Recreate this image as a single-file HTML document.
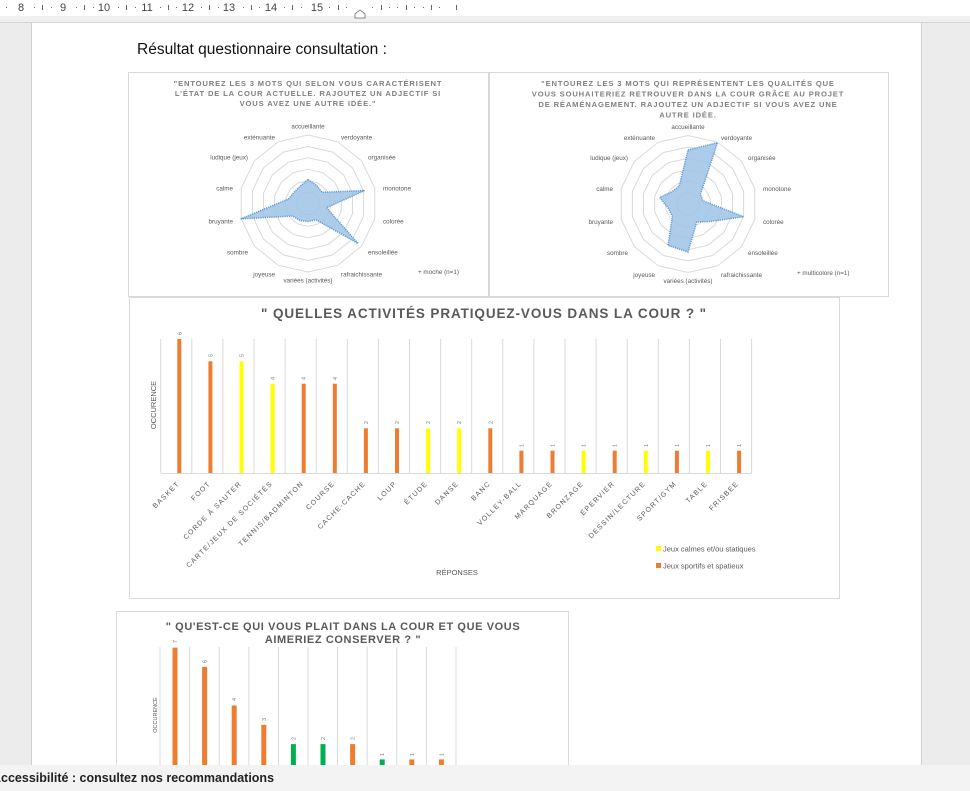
<!DOCTYPE html>
<html><head><meta charset="utf-8"><style>
html,body{margin:0;padding:0;width:970px;height:791px;overflow:hidden;background:#fff}
svg{display:block}
.t{font-family:"Liberation Sans",sans-serif}
.rl{font-family:"Liberation Sans",sans-serif;font-size:6.3px;fill:#595959}
.ct{font-family:"Liberation Sans",sans-serif;font-weight:bold;font-size:7.6px;fill:#7f7f7f;letter-spacing:0.85px;text-anchor:middle}
.cat{font-family:"Liberation Sans",sans-serif;font-size:7px;fill:#595959;letter-spacing:1.2px;text-anchor:end}
.v{font-family:"Liberation Sans",sans-serif;font-size:5.5px;fill:#7f7f7f}
.rg{fill:none;stroke:#d9d9d9;stroke-width:1}
.dp{fill:#9dc3e6;fill-opacity:.85;stroke:#5b9bd5;stroke-width:1.5;stroke-dasharray:1.2 1}
</style></head><body>
<svg width="970" height="791" viewBox="0 0 970 791" xmlns="http://www.w3.org/2000/svg">
<defs>
<polygon id="ring" points="0,-1 0.4339,-0.9010 0.7818,-0.6235 0.9749,-0.2225 0.9749,0.2225 0.7818,0.6235 0.4339,0.9010 0,1 -0.4339,0.9010 -0.7818,0.6235 -0.9749,0.2225 -0.9749,-0.2225 -0.7818,-0.6235 -0.4339,-0.9010"/>
</defs>
<rect x="0" y="0" width="970" height="791" fill="#ececec"/>
<rect x="0" y="0" width="970" height="16" fill="#fff"/>
<rect x="0" y="16" width="970" height="6" fill="#f0f0f0"/>
<line x1="0" y1="22.5" x2="970" y2="22.5" stroke="#d4d4d4"/>
<rect x="31" y="23" width="891" height="742" fill="#fff"/>
<line x1="31.5" y1="23" x2="31.5" y2="765" stroke="#d0d0d0"/>
<line x1="921.5" y1="23" x2="921.5" y2="765" stroke="#d0d0d0"/>
<g class="t" font-size="11" fill="#444" text-anchor="middle">
<text x="21" y="11">8</text><text x="63" y="11">9</text><text x="104" y="11">10</text><text x="147" y="11">11</text><text x="188" y="11">12</text><text x="229" y="11">13</text><text x="271" y="11">14</text><text x="317" y="11">15</text>
</g>
<g fill="#666">
<rect x="6" y="7" width="1" height="1"/><rect x="34" y="7" width="1" height="1"/><rect x="42" y="5" width="1" height="5"/><rect x="51" y="7" width="1" height="1"/><rect x="76" y="7" width="1" height="1"/><rect x="84" y="5" width="1" height="5"/><rect x="93" y="7" width="1" height="1"/><rect x="118" y="7" width="1" height="1"/><rect x="126" y="5" width="1" height="5"/><rect x="135" y="7" width="1" height="1"/><rect x="160" y="7" width="1" height="1"/><rect x="168" y="5" width="1" height="5"/><rect x="176" y="7" width="1" height="1"/><rect x="201" y="7" width="1" height="1"/><rect x="209" y="5" width="1" height="5"/><rect x="218" y="7" width="1" height="1"/><rect x="243" y="7" width="1" height="1"/><rect x="251" y="5" width="1" height="5"/><rect x="259" y="7" width="1" height="1"/><rect x="284" y="7" width="1" height="1"/><rect x="292" y="5" width="1" height="5"/><rect x="301" y="7" width="1" height="1"/><rect x="329" y="7" width="1" height="1"/><rect x="338" y="5" width="1" height="5"/><rect x="346" y="7" width="1" height="1"/>
<rect x="372" y="7" width="1" height="1"/><rect x="381" y="5" width="1" height="5"/><rect x="389" y="7" width="1" height="1"/><rect x="397" y="7" width="1" height="1"/><rect x="406" y="5" width="1" height="5"/><rect x="414" y="7" width="1" height="1"/><rect x="423" y="7" width="1" height="1"/><rect x="431" y="5" width="1" height="5"/><rect x="439" y="7" width="1" height="1"/><rect x="456" y="5" width="1" height="5"/>
</g>
<path d="M355,18 L355,14 L360,10 L365,14 L365,18 Z" fill="#fff" stroke="#666" stroke-width="0.8"/>
<text class="t" x="137" y="54" font-size="15.5" fill="#111">Résultat questionnaire consultation :</text>

<!-- Radar 1 -->
<rect x="128.5" y="72.5" width="360" height="224" fill="#fff" stroke="#d9d9d9"/>
<text class="ct" x="308" y="86">"ENTOUREZ LES 3 MOTS QUI SELON VOUS CARACTÉRISENT</text>
<text class="ct" x="308" y="96">L’ÉTAT DE LA COUR ACTUELLE. RAJOUTEZ UN ADJECTIF SI</text>
<text class="ct" x="308" y="106">VOUS AVEZ UNE AUTRE IDÉE."</text>
<g transform="translate(308,203.5)">
<use href="#ring" class="rg" transform="scale(68.5)" style="stroke-width:.0146"/>
<use href="#ring" class="rg" transform="scale(57)" style="stroke-width:.0175"/>
<use href="#ring" class="rg" transform="scale(45.7)" style="stroke-width:.0219"/>
<use href="#ring" class="rg" transform="scale(34.2)" style="stroke-width:.0292"/>
<use href="#ring" class="rg" transform="scale(22.8)" style="stroke-width:.0438"/>
<use href="#ring" class="rg" transform="scale(11.4)" style="stroke-width:.0877"/>
<polygon class="dp" points="0,-24 8.7,-18 14,-11.2 56.5,-12.9 18.5,4.2 50,39.9 7.8,16.2 0,18 -8.2,17 -15.6,12.5 -67.3,15.4 -19.5,-4.5 -14,-11.2 -8.2,-17"/>
<text class="rl" x="0" y="-75" text-anchor="middle">accueillante</text>
<text class="rl" x="33" y="-64" >verdoyante</text>
<text class="rl" x="60" y="-44">organisée</text>
<text class="rl" x="75" y="-13">monotone</text>
<text class="rl" x="75" y="20">colorée</text>
<text class="rl" x="60" y="51">ensoleillée</text>
<text class="rl" x="33" y="73">rafraichissante</text>
<text class="rl" x="0" y="79" text-anchor="middle">variées (activités)</text>
<text class="rl" x="-33" y="73" text-anchor="end">joyeuse</text>
<text class="rl" x="-60" y="51" text-anchor="end">sombre</text>
<text class="rl" x="-75" y="20" text-anchor="end">bruyante</text>
<text class="rl" x="-75" y="-13" text-anchor="end">calme</text>
<text class="rl" x="-60" y="-44" text-anchor="end">ludique (jeux)</text>
<text class="rl" x="-33" y="-64" text-anchor="end">exténuante</text>
</g>
<text class="rl" x="418" y="274">+ moche (n=1)</text>

<!-- Radar 2 -->
<rect x="489.5" y="72.5" width="399" height="224" fill="#fff" stroke="#d9d9d9"/>
<text class="ct" x="688" y="86">"ENTOUREZ LES 3 MOTS QUI REPRÉSENTENT LES QUALITÉS QUE</text>
<text class="ct" x="688" y="96.5">VOUS SOUHAITERIEZ RETROUVER DANS LA COUR GRÂCE AU PROJET</text>
<text class="ct" x="688" y="107">DE RÉAMÉNAGEMENT. RAJOUTEZ UN ADJECTIF SI VOUS AVEZ UNE</text>
<text class="ct" x="688" y="117.5">AUTRE IDÉE.</text>
<g transform="translate(688,204)">
<use href="#ring" class="rg" transform="scale(68.5)" style="stroke-width:.0146"/>
<use href="#ring" class="rg" transform="scale(57)" style="stroke-width:.0175"/>
<use href="#ring" class="rg" transform="scale(45.7)" style="stroke-width:.0219"/>
<use href="#ring" class="rg" transform="scale(34.2)" style="stroke-width:.0292"/>
<use href="#ring" class="rg" transform="scale(22.8)" style="stroke-width:.0438"/>
<use href="#ring" class="rg" transform="scale(11.4)" style="stroke-width:.0877"/>
<polygon class="dp" points="0,-54 29.5,-61.3 12.5,-10 14.6,-3.3 55.6,12.7 21.9,17.5 8.7,18 0,48 -20,41.4 -15.6,12.5 -19.5,4.5 -28.3,-6.5 -15.6,-12.5 -8.7,-18"/>
<text class="rl" x="0" y="-75" text-anchor="middle">accueillante</text>
<text class="rl" x="33" y="-64" >verdoyante</text>
<text class="rl" x="60" y="-44">organisée</text>
<text class="rl" x="75" y="-13">monotone</text>
<text class="rl" x="75" y="20">colorée</text>
<text class="rl" x="60" y="51">ensoleillée</text>
<text class="rl" x="33" y="73">rafraichissante</text>
<text class="rl" x="0" y="79" text-anchor="middle">variées (activités)</text>
<text class="rl" x="-33" y="73" text-anchor="end">joyeuse</text>
<text class="rl" x="-60" y="51" text-anchor="end">sombre</text>
<text class="rl" x="-75" y="20" text-anchor="end">bruyante</text>
<text class="rl" x="-75" y="-13" text-anchor="end">calme</text>
<text class="rl" x="-60" y="-44" text-anchor="end">ludique (jeux)</text>
<text class="rl" x="-33" y="-64" text-anchor="end">exténuante</text>
</g>
<text class="rl" x="797" y="275">+ multicolore (n=1)</text>

<!-- Bar chart 1 -->
<rect x="129.5" y="297.5" width="710" height="301" fill="#fff" stroke="#d9d9d9"/>
<text class="t" x="484" y="318" text-anchor="middle" font-size="13.5" font-weight="bold" fill="#595959" letter-spacing="0.9">" QUELLES ACTIVITÉS PRATIQUEZ-VOUS DANS LA COUR ? "</text>
<text class="t" font-size="7.5" fill="#595959" transform="translate(156,405) rotate(-90)" text-anchor="middle">OCCURENCE</text>
<g stroke="#d9d9d9" stroke-width="1">
<line x1="160.7" y1="339" x2="160.7" y2="473"/><line x1="191.8" y1="339" x2="191.8" y2="473"/><line x1="222.9" y1="339" x2="222.9" y2="473"/><line x1="254" y1="339" x2="254" y2="473"/><line x1="285.1" y1="339" x2="285.1" y2="473"/><line x1="316.2" y1="339" x2="316.2" y2="473"/><line x1="347.3" y1="339" x2="347.3" y2="473"/><line x1="378.4" y1="339" x2="378.4" y2="473"/><line x1="409.5" y1="339" x2="409.5" y2="473"/><line x1="440.6" y1="339" x2="440.6" y2="473"/><line x1="471.7" y1="339" x2="471.7" y2="473"/><line x1="502.8" y1="339" x2="502.8" y2="473"/><line x1="533.9" y1="339" x2="533.9" y2="473"/><line x1="565" y1="339" x2="565" y2="473"/><line x1="596.1" y1="339" x2="596.1" y2="473"/><line x1="627.2" y1="339" x2="627.2" y2="473"/><line x1="658.3" y1="339" x2="658.3" y2="473"/><line x1="689.4" y1="339" x2="689.4" y2="473"/><line x1="720.5" y1="339" x2="720.5" y2="473"/><line x1="751.6" y1="339" x2="751.6" y2="473"/>
<line x1="160.7" y1="473.5" x2="751.6" y2="473.5"/>
</g>
<g>
<rect x="177.3" y="339" width="4" height="134" fill="#ED7D31"/>
<rect x="208.4" y="361.3" width="4" height="111.7" fill="#ED7D31"/>
<rect x="239.5" y="361.3" width="4" height="111.7" fill="#FFFF00"/>
<rect x="270.6" y="383.7" width="4" height="89.3" fill="#FFFF00"/>
<rect x="301.7" y="383.7" width="4" height="89.3" fill="#ED7D31"/>
<rect x="332.8" y="383.7" width="4" height="89.3" fill="#ED7D31"/>
<rect x="363.9" y="428.3" width="4" height="44.7" fill="#ED7D31"/>
<rect x="395" y="428.3" width="4" height="44.7" fill="#ED7D31"/>
<rect x="426.1" y="428.3" width="4" height="44.7" fill="#FFFF00"/>
<rect x="457.2" y="428.3" width="4" height="44.7" fill="#FFFF00"/>
<rect x="488.3" y="428.3" width="4" height="44.7" fill="#ED7D31"/>
<rect x="519.4" y="450.7" width="4" height="22.3" fill="#ED7D31"/>
<rect x="550.5" y="450.7" width="4" height="22.3" fill="#ED7D31"/>
<rect x="581.6" y="450.7" width="4" height="22.3" fill="#FFFF00"/>
<rect x="612.7" y="450.7" width="4" height="22.3" fill="#ED7D31"/>
<rect x="643.8" y="450.7" width="4" height="22.3" fill="#FFFF00"/>
<rect x="674.9" y="450.7" width="4" height="22.3" fill="#ED7D31"/>
<rect x="706" y="450.7" width="4" height="22.3" fill="#FFFF00"/>
<rect x="737.1" y="450.7" width="4" height="22.3" fill="#ED7D31"/>
</g>
<g class="v">
<text transform="translate(181.3,335) rotate(-90)">6</text>
<text transform="translate(212.4,357) rotate(-90)">5</text>
<text transform="translate(243.5,357) rotate(-90)">5</text>
<text transform="translate(274.6,380) rotate(-90)">4</text>
<text transform="translate(305.7,380) rotate(-90)">4</text>
<text transform="translate(336.8,380) rotate(-90)">4</text>
<text transform="translate(367.9,424) rotate(-90)">2</text>
<text transform="translate(399,424) rotate(-90)">2</text>
<text transform="translate(430.1,424) rotate(-90)">2</text>
<text transform="translate(461.2,424) rotate(-90)">2</text>
<text transform="translate(492.3,424) rotate(-90)">2</text>
<text transform="translate(523.4,447) rotate(-90)">1</text>
<text transform="translate(554.5,447) rotate(-90)">1</text>
<text transform="translate(585.6,447) rotate(-90)">1</text>
<text transform="translate(616.7,447) rotate(-90)">1</text>
<text transform="translate(647.8,447) rotate(-90)">1</text>
<text transform="translate(678.9,447) rotate(-90)">1</text>
<text transform="translate(710,447) rotate(-90)">1</text>
<text transform="translate(741.1,447) rotate(-90)">1</text>
</g>
<g class="cat">
<text transform="translate(180,484) rotate(-45)">BASKET</text>
<text transform="translate(211,484) rotate(-45)">FOOT</text>
<text transform="translate(242,484) rotate(-45)">CORDE À SAUTER</text>
<text transform="translate(273,484) rotate(-45)">CARTE/JEUX DE SOCIÉTÉS</text>
<text transform="translate(304,484) rotate(-45)">TENNIS/BADMINTON</text>
<text transform="translate(335,484) rotate(-45)">COURSE</text>
<text transform="translate(366,484) rotate(-45)">CACHE-CACHE</text>
<text transform="translate(397,484) rotate(-45)">LOUP</text>
<text transform="translate(428,484) rotate(-45)">ÉTUDE</text>
<text transform="translate(459,484) rotate(-45)">DANSE</text>
<text transform="translate(491,484) rotate(-45)">BANC</text>
<text transform="translate(522,484) rotate(-45)">VOLLEY-BALL</text>
<text transform="translate(553,484) rotate(-45)">MARQUAGE</text>
<text transform="translate(584,484) rotate(-45)">BRONZAGE</text>
<text transform="translate(615,484) rotate(-45)">ÉPERVIER</text>
<text transform="translate(646,484) rotate(-45)">DESSIN/LECTURE</text>
<text transform="translate(677,484) rotate(-45)">SPORT/GYM</text>
<text transform="translate(708,484) rotate(-45)">TABLE</text>
<text transform="translate(739,484) rotate(-45)">FRISBEE</text>
</g>
<text class="t" x="457" y="575" font-size="7.5" fill="#595959" text-anchor="middle">RÉPONSES</text>
<rect x="656" y="546" width="5" height="5" fill="#FFFF00"/>
<text class="t" x="663" y="551.5" font-size="7.5" fill="#595959">Jeux calmes et/ou statiques</text>
<rect x="656" y="563" width="5" height="5" fill="#ED7D31"/>
<text class="t" x="663" y="568.5" font-size="7.5" fill="#595959">Jeux sportifs et spatieux</text>

<!-- Bar chart 2 -->
<rect x="116.5" y="611.5" width="452" height="170" fill="#fff" stroke="#d9d9d9"/>
<text class="t" x="343" y="630" text-anchor="middle" font-size="11" font-weight="bold" fill="#595959" letter-spacing="0.6">" QU'EST-CE QUI VOUS PLAIT DANS LA COUR ET QUE VOUS</text>
<text class="t" x="343" y="643" text-anchor="middle" font-size="11" font-weight="bold" fill="#595959" letter-spacing="0.6">AIMERIEZ CONSERVER ? "</text>
<text class="t" font-size="5.5" fill="#595959" transform="translate(157,715) rotate(-90)" text-anchor="middle">OCCURENCE</text>
<g stroke="#d9d9d9">
<line x1="160" y1="647" x2="160" y2="765"/><line x1="189.6" y1="647" x2="189.6" y2="765"/><line x1="219.2" y1="647" x2="219.2" y2="765"/><line x1="248.8" y1="647" x2="248.8" y2="765"/><line x1="278.4" y1="647" x2="278.4" y2="765"/><line x1="308" y1="647" x2="308" y2="765"/><line x1="337.6" y1="647" x2="337.6" y2="765"/><line x1="367.2" y1="647" x2="367.2" y2="765"/><line x1="396.8" y1="647" x2="396.8" y2="765"/><line x1="426.4" y1="647" x2="426.4" y2="765"/><line x1="456" y1="647" x2="456" y2="765"/>
</g>
<rect x="172.5" y="647.6" width="5" height="135" fill="#ED7D31"/>
<rect x="202.1" y="666.9" width="5" height="116" fill="#ED7D31"/>
<rect x="231.7" y="705.5" width="5" height="77" fill="#ED7D31"/>
<rect x="261.3" y="724.8" width="5" height="58" fill="#ED7D31"/>
<rect x="290.9" y="744.1" width="5" height="39" fill="#00B050"/>
<rect x="320.5" y="744.1" width="5" height="39" fill="#00B050"/>
<rect x="350.1" y="744.1" width="5" height="39" fill="#ED7D31"/>
<rect x="379.7" y="759.4" width="5" height="20" fill="#00B050"/>
<rect x="409.3" y="759.4" width="5" height="20" fill="#ED7D31"/>
<rect x="438.9" y="759.4" width="5" height="20" fill="#ED7D31"/>
<g class="v" font-size="4.5">
<text transform="translate(177,643) rotate(-90)">7</text>
<text transform="translate(206.6,663) rotate(-90)">6</text>
<text transform="translate(236.2,701) rotate(-90)">4</text>
<text transform="translate(265.8,721) rotate(-90)">3</text>
<text transform="translate(295.4,740) rotate(-90)">2</text>
<text transform="translate(325,740) rotate(-90)">2</text>
<text transform="translate(354.6,740) rotate(-90)">2</text>
<text transform="translate(384.2,756) rotate(-90)">1</text>
<text transform="translate(413.8,756) rotate(-90)">1</text>
<text transform="translate(443.4,756) rotate(-90)">1</text>
</g>

<rect x="0" y="765" width="970" height="26" fill="#f3f3f3"/>
<text class="t" x="-8" y="782" font-size="12.5" font-weight="bold" fill="#222">Accessibilité : consultez nos recommandations</text>
</svg>
</body></html>
